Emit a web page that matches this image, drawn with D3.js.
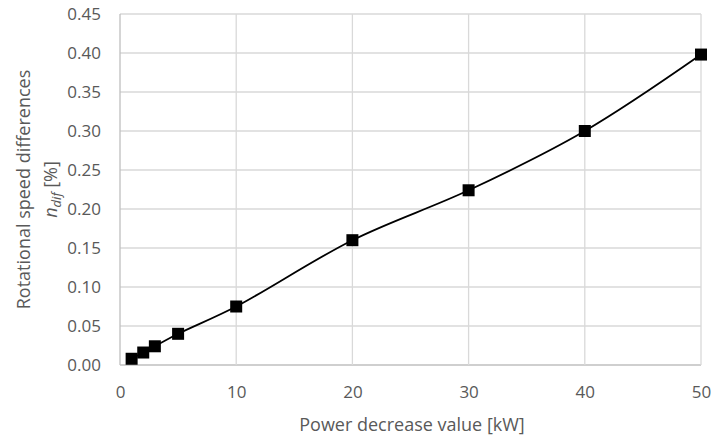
<!DOCTYPE html>
<html>
<head>
<meta charset="utf-8">
<script src="https://cdn.jsdelivr.net/npm/d3@7"></script>
<style>
  body { margin: 0; background: #fff; }
  text { font-family: "Open Sans", "Liberation Sans", sans-serif; fill: #595959; }
</style>
</head>
<body>
<script>
// data
var powerDecrease = [1, 2, 3, 5, 10, 20, 30, 40, 50];
var speedDiff = [0.008, 0.016, 0.024, 0.040, 0.075, 0.160, 0.224, 0.300, 0.398];
var xTicks = [0, 10, 20, 30, 40, 50];
var yTicks = [0, 0.05, 0.10, 0.15, 0.20, 0.25, 0.30, 0.35, 0.40, 0.45];

var width = 715, height = 439;
var margin = {left: 120, right: 14, top: 14, bottom: 74};
var chart_width = width - margin.left - margin.right,
    chart_height = height - margin.top - margin.bottom;

var svg = d3.select("body").append("svg")
    .attr("width", width)
    .attr("height", height);

var x = d3.scaleLinear().domain([0, 50]).range([0, chart_width]),
    y = d3.scaleLinear().domain([0, 0.45]).range([chart_height, 0]);

var g = svg.append("g")
    .attr("transform", "translate(" + margin.left + "," + margin.top + ")");

// grid
g.selectAll(".hgrid").data(yTicks).enter().append("line")
    .attr("x1", 0).attr("x2", chart_width)
    .attr("y1", function(d) { return y(d); })
    .attr("y2", function(d) { return y(d); })
    .attr("stroke", function(d) { return d === 0 ? "#bfbfbf" : "#d9d9d9"; })
    .attr("stroke-width", 1.3);

g.selectAll(".vgrid").data(xTicks).enter().append("line")
    .attr("y1", 0).attr("y2", chart_height)
    .attr("x1", function(d) { return x(d); })
    .attr("x2", function(d) { return x(d); })
    .attr("stroke", function(d) { return d === 0 ? "#bfbfbf" : "#d9d9d9"; })
    .attr("stroke-width", 1.3);

// axes labels
var xAxis = g.append("g")
    .attr("transform", "translate(0," + chart_height + ")")
    .call(d3.axisBottom(x).tickValues(xTicks).tickSize(0).tickPadding(21));
xAxis.select(".domain").remove();
xAxis.selectAll("text").style("font-size", "17px").attr("fill", "#595959");

var yAxis = g.append("g")
    .call(d3.axisLeft(y).tickValues(yTicks).tickSize(0).tickPadding(19).tickFormat(d3.format(".2f")));
yAxis.select(".domain").remove();
yAxis.selectAll("text").style("font-size", "17px").attr("fill", "#595959");

// line
var data = powerDecrease.map(function(p, i) { return {p: p, v: speedDiff[i]}; });

var line = d3.line()
    .x(function(d) { return x(d.p); })
    .y(function(d) { return y(d.v); })
    .curve(d3.curveCatmullRom.alpha(0.5));

g.append("path")
    .datum(data)
    .attr("d", line)
    .attr("fill", "none")
    .attr("stroke", "#000")
    .attr("stroke-width", 1.8);

g.selectAll(".pt").data(data).enter().append("rect")
    .attr("x", function(d) { return x(d.p) - 6; })
    .attr("y", function(d) { return y(d.v) - 6; })
    .attr("width", 12).attr("height", 12)
    .attr("fill", "#000");

// titles
svg.append("text")
    .attr("x", 412)
    .attr("y", 431)
    .attr("text-anchor", "middle")
    .style("font-size", "18px")
    .text("Power decrease value [kW]");

var yt = svg.append("text")
    .attr("transform", "translate(30," + (margin.top + chart_height / 2) + ") rotate(-90)")
    .attr("text-anchor", "middle")
    .style("font-size", "18px");
yt.append("tspan").attr("x", 0).attr("dy", 0).text("Rotational speed differences");

var yt2 = svg.append("text")
    .attr("transform", "translate(57," + (margin.top + chart_height / 2) + ") rotate(-90)")
    .attr("text-anchor", "middle")
    .style("font-size", "18px");
yt2.append("tspan").style("font-style", "italic").text("n");
yt2.append("tspan").style("font-style", "italic").style("font-size", "13px").attr("dy", 4).text("dif");
yt2.append("tspan").attr("dy", -4).text(" [%]");
</script>
</body>
</html>
